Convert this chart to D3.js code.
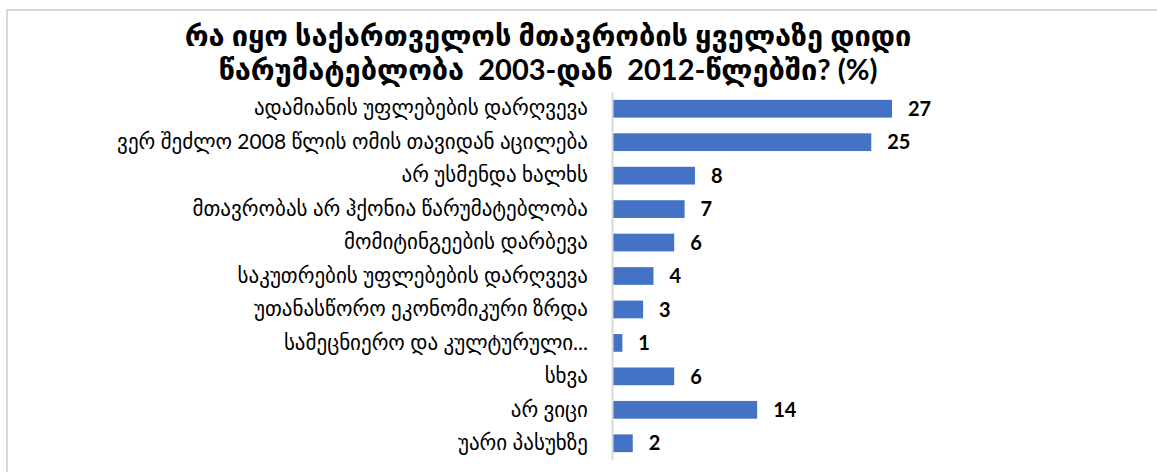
<!DOCTYPE html>
<html>
<head>
<meta charset="utf-8">
<script src="https://cdn.jsdelivr.net/npm/d3@7"></script>
<style>
  body { margin: 0; background: #fff; }
  svg { display: block; }
</style>
</head>
<body>
<div id="wrapper"></div>
<script>
// Categories, top to bottom, and their shares (%)
const categories = [
  "ადამიანის უფლებების დარღვევა",
  "ვერ შეძლო 2008 წლის ომის თავიდან აცილება",
  "არ უსმენდა ხალხს",
  "მთავრობას არ ჰქონია წარუმატებლობა",
  "მომიტინგეების დარბევა",
  "საკუთრების უფლებების დარღვევა",
  "უთანასწორო ეკონომიკური ზრდა",
  "სამეცნიერო და კულტურული...",
  "სხვა",
  "არ ვიცი",
  "უარი პასუხზე"
]
const values = [27, 25, 8, 7, 6, 4, 3, 1, 6, 14, 2]

const titleLines = [
  "რა იყო საქართველოს მთავრობის ყველაზე დიდი",
  "წარუმატებლობა  2003-დან  2012-წლებში? (%)"
]

let dimensions = {
  width: 1157,
  height: 472,
  margin: { top: 92, right: 10, bottom: 12, left: 612 }
}
dimensions.boundedWidth = 280 / 27 * 30
dimensions.boundedHeight = dimensions.height - dimensions.margin.top - dimensions.margin.bottom

const fontFamily = "'Lato', 'DejaVu Sans', sans-serif"

const wrapper = d3.select('#wrapper').append('svg')
  .attr('width', dimensions.width)
  .attr('height', dimensions.height)
  .style('font-family', fontFamily)

// chart area frame (only top/left visible in the picture)
wrapper.append('rect')
  .attr('x', 7).attr('y', 10)
  .attr('width', 1200).attr('height', 500)
  .attr('fill', 'none')
  .attr('stroke', '#d9d9d9')
  .attr('stroke-width', 2)

// title
const title = wrapper.append('text')
  .attr('x', 548)
  .attr('text-anchor', 'middle')
  .attr('font-weight', 'bold')
  .style('font-size', '29px')
  .style('white-space', 'pre')
  .attr('fill', '#000')
titleLines.forEach((line, i) => {
  title.append('tspan').attr('x', 548).attr('y', 46 + i * 34).text(line)
})

const bounds = wrapper.append('g')
  .attr('transform', `translate(${dimensions.margin.left},${dimensions.margin.top})`)

// Scales
const xScale = d3.scaleLinear().domain([0, 30]).range([0, dimensions.boundedWidth])
const yScale = d3.scaleBand()
  .domain(categories)
  .range([0, 368])
  .paddingInner(0.47)
  .paddingOuter(0.235)

// bars
bounds.append('g').selectAll('rect')
  .data(values)
  .join('rect')
  .attr('x', xScale(0))
  .attr('y', (d, i) => yScale(categories[i]))
  .attr('width', d => xScale(d) - xScale(0))
  .attr('height', yScale.bandwidth())
  .attr('fill', '#4472c4')

// value labels
bounds.append('g').selectAll('text')
  .data(values)
  .join('text')
  .attr('x', d => xScale(d) + 16)
  .attr('y', (d, i) => yScale(categories[i]) + yScale.bandwidth() / 2)
  .attr('dy', '0.36em')
  .attr('font-weight', 'bold')
  .style('font-size', '20px')
  .attr('fill', '#000')
  .text(d => d)

// y axis: category labels and a light line, no ticks
const yAxisGenerator = d3.axisLeft(yScale).tickSize(0).tickPadding(24)
const yAxis = bounds.append('g').call(yAxisGenerator)
yAxis.select('.domain').attr('stroke', '#d9d9d9').attr('stroke-width', 2)
yAxis.selectAll('text')
  .style('font-size', '21px')
  .style('font-family', fontFamily)
  .attr('fill', '#000')
</script>
</body>
</html>
